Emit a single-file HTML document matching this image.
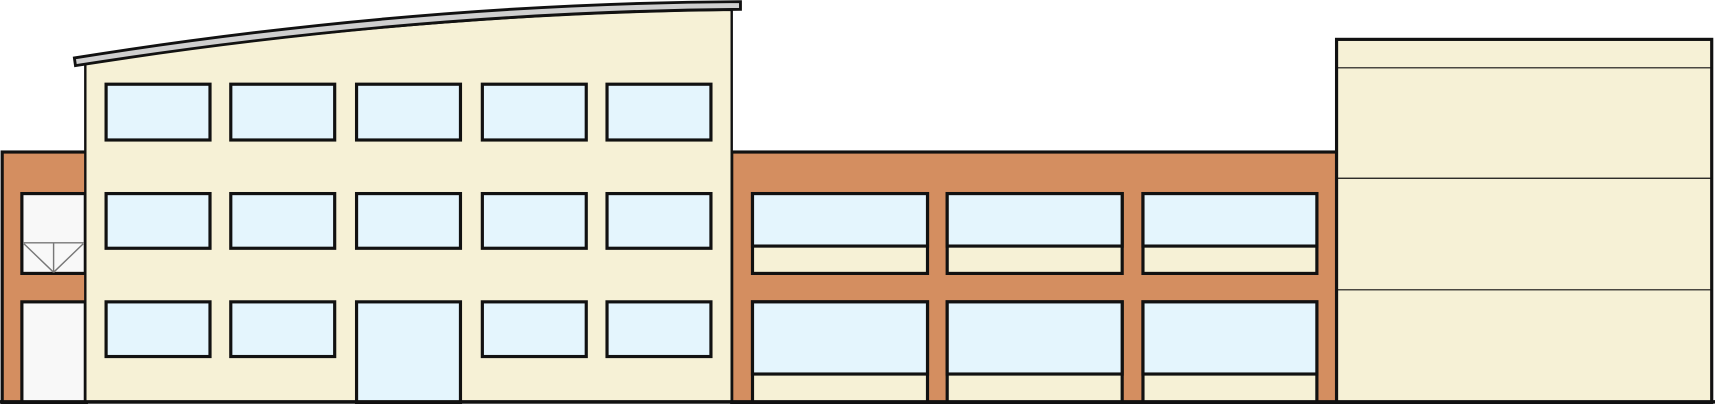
<!DOCTYPE html>
<html><head><meta charset="utf-8"><style>html,body{margin:0;padding:0;background:#fff}svg{display:block}</style></head>
<body>
<svg width="1715" height="404" viewBox="0 0 1568 369.4" preserveAspectRatio="none" xmlns="http://www.w3.org/2000/svg">
<g stroke="#111" stroke-width="2.9" stroke-linejoin="miter">
<!-- left orange block -->
<rect x="2" y="139" width="77" height="229" fill="#d48e60"/>
<rect x="20" y="177" width="58" height="73" fill="#f8f8f8"/>
<g stroke="#777" stroke-width="1.3" fill="none">
<line x1="21" y1="222" x2="77" y2="222"/><line x1="49" y1="222" x2="49" y2="249"/>
<line x1="22" y1="223" x2="49" y2="249"/><line x1="76" y1="223" x2="49" y2="249"/>
</g>
<rect x="20" y="276" width="58" height="92" fill="#f8f8f8"/>
<!-- middle orange block -->
<rect x="669" y="139" width="553" height="229" fill="#d48e60"/>
<g fill="#f6f1d6">
<rect x="688" y="177" width="160" height="73"/><rect x="866" y="177" width="160" height="73"/><rect x="1045" y="177" width="159" height="73"/>
<rect x="688" y="276" width="160" height="92"/><rect x="866" y="276" width="160" height="92"/><rect x="1045" y="276" width="159" height="92"/>
</g>
<g fill="#e4f5fd">
<rect x="688" y="177" width="160" height="48"/><rect x="866" y="177" width="160" height="48"/><rect x="1045" y="177" width="159" height="48"/>
<rect x="688" y="276" width="160" height="66"/><rect x="866" y="276" width="160" height="66"/><rect x="1045" y="276" width="159" height="66"/>
</g>
<!-- right block -->
<rect x="1222" y="36" width="343" height="332" fill="#f6f1d6"/>
<g stroke-width="1.1"><line x1="1222" y1="62" x2="1565" y2="62"/><line x1="1222" y1="163" x2="1565" y2="163"/><line x1="1222" y1="265" x2="1565" y2="265"/></g>
<!-- main building -->
<path d="M78 110 L78 58 Q380 12 669 9 L669 368 L78 368 Z" fill="#f6f1d6" stroke-width="2.2"/>
<path d="M68 53 Q380 3 677 1.5 L677 8.5 Q380 11 69 60 Z" fill="#cfcfcf" stroke-width="2.6"/>
<g fill="#e4f5fd">
<rect x="97" y="77" width="95" height="51"/><rect x="211" y="77" width="95" height="51"/><rect x="326" y="77" width="95" height="51"/><rect x="441" y="77" width="95" height="51"/><rect x="555" y="77" width="95" height="51"/>
<rect x="97" y="177" width="95" height="50"/><rect x="211" y="177" width="95" height="50"/><rect x="326" y="177" width="95" height="50"/><rect x="441" y="177" width="95" height="50"/><rect x="555" y="177" width="95" height="50"/>
<rect x="97" y="276" width="95" height="50"/><rect x="211" y="276" width="95" height="50"/><rect x="326" y="276" width="95" height="92"/><rect x="441" y="276" width="95" height="50"/><rect x="555" y="276" width="95" height="50"/>
</g>
<line x1="0" y1="367.5" x2="1568" y2="367.5" stroke-width="3.2"/>
</g>
</svg>
</body></html>
